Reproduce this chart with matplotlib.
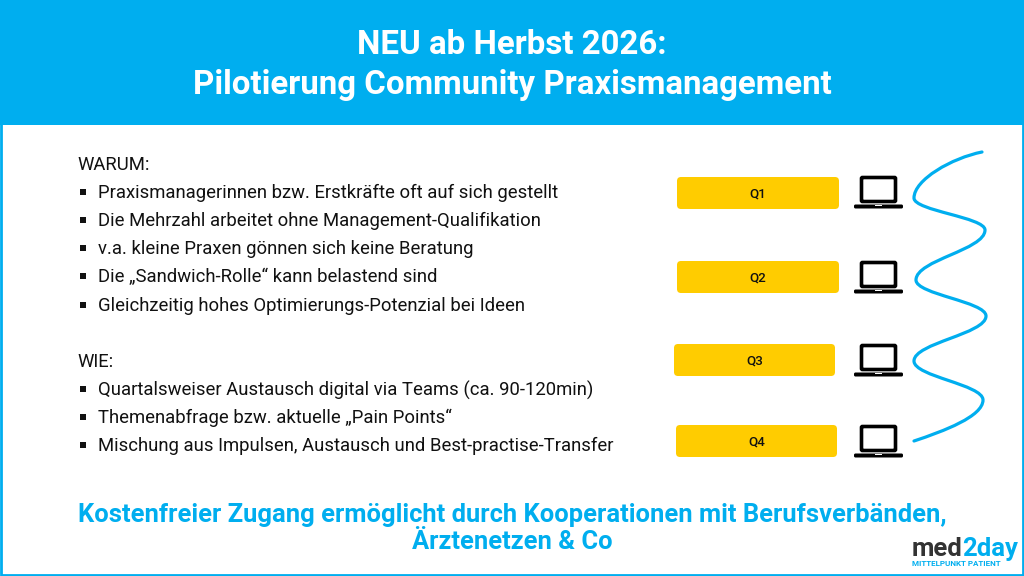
"""Slide: Pilotierung Community Praxismanagement"""
import matplotlib
matplotlib.use('Agg')
import matplotlib.pyplot as plt
from matplotlib.patches import Rectangle, FancyBboxPatch, PathPatch
from matplotlib.path import Path

BLUE = '#00AEEF'
YELLOW = '#FFCC00'
TEXT = '#111111'

title_lines = ['NEU ab Herbst 2026:', 'Pilotierung Community Praxismanagement']
title_y = [45, 85]

warum_head = 'WARUM:'
warum_items = [
    'Praxismanagerinnen bzw. Erstkräfte oft auf sich gestellt',
    'Die Mehrzahl arbeitet ohne Management-Qualifikation',
    'v.a. kleine Praxen gönnen sich keine Beratung',
    'Die „Sandwich-Rolle“ kann belastend sind',
    'Gleichzeitig hohes Optimierungs-Potenzial bei Ideen',
]
warum_y = [192, 220, 248, 276, 305]

wie_head = 'WIE:'
wie_items = [
    'Quartalsweiser Austausch digital via Teams (ca. 90-120min)',
    'Themenabfrage bzw. aktuelle „Pain Points“',
    'Mischung aus Impulsen, Austausch und Best-practise-Transfer',
]
wie_y = [389, 417, 445]

quarters = ['Q1', 'Q2', 'Q3', 'Q4']
quarter_left = [677, 677, 674, 676]
quarter_right = [839, 839, 835, 837]
quarter_y = [193, 277, 360, 441]
laptop_top = [176, 261, 344, 425]

# extreme points of the wavy line, top to bottom
wave_x = [982, 914, 985, 916, 986, 914, 983, 914]
wave_y = [152, 198, 230, 280, 316, 361, 400, 441]

footer_lines = ['Kostenfreier Zugang ermöglicht durch Kooperationen mit Berufsverbänden,',
                'Ärztenetzen & Co']
footer_y = [515, 542]

fig = plt.figure(figsize=(10.24, 5.76), dpi=100)
ax = fig.add_axes([0, 0, 1, 1])
ax.set_xlim(0, 1024)
ax.set_ylim(576, 0)
ax.axis('off')
plt.rcParams['font.family'] = ['Roboto', 'DejaVu Sans']

# frame and banner
ax.add_patch(Rectangle((1, 1), 1022, 574, fc='white', ec=BLUE, lw=2))
ax.add_patch(Rectangle((0, 0), 1024, 125, fc=BLUE, ec='none'))
for line, y in zip(title_lines, title_y):
    ax.text(512, y, line, color='white', fontsize=23.8, fontweight='bold',
            ha='center', va='center')

# bullet lists
ax.text(77.5, 165, warum_head, color=TEXT, fontsize=13.3, va='center')
ax.text(77.5, 362, wie_head, color=TEXT, fontsize=13.3, va='center')
for items, ys in [(warum_items, warum_y), (wie_items, wie_y)]:
    for item, y in zip(items, ys):
        ax.add_patch(Rectangle((80, y - 3), 5.5, 5.5, fc=TEXT, ec='none'))
        ax.text(98, y + 1, item, color=TEXT, fontsize=13.3, va='center')

# quarter boxes and laptops
for q, x0, x1, y, top in zip(quarters, quarter_left, quarter_right, quarter_y, laptop_top):
    ax.add_patch(FancyBboxPatch((x0 + 4, y - 12), x1 - x0 - 8, 24,
                                boxstyle='round,pad=4,rounding_size=4',
                                fc=YELLOW, ec='none'))
    ax.text((x0 + x1) / 2, y + 1, q, color=TEXT, fontsize=9.5, fontweight='medium',
            ha='center', va='center')
    ax.add_patch(FancyBboxPatch((861.5, top + 1.5), 34, 24,
                                boxstyle='round,pad=0,rounding_size=1',
                                fc='white', ec='black', lw=2.6))
    ax.add_patch(FancyBboxPatch((854, top + 28.5), 49, 4,
                                boxstyle='round,pad=0,rounding_size=1.5',
                                fc='black', ec='none'))
    ax.add_patch(Rectangle((875, top + 28.5), 7, 1.5, fc='white', ec='none'))

# wavy line through the extremes
verts = [(wave_x[0], wave_y[0])]
codes = [Path.MOVETO]
for i in range(1, len(wave_x)):
    k = 0.4 * abs(wave_y[i] - wave_y[i - 1])
    c1 = (wave_x[i - 1] - 30, wave_y[i - 1] + 6) if i == 1 else (wave_x[i - 1], wave_y[i - 1] + k)
    c2 = (wave_x[i] + 30, wave_y[i] - 10) if i == len(wave_x) - 1 else (wave_x[i], wave_y[i] - k)
    verts += [c1, c2, (wave_x[i], wave_y[i])]
    codes += [Path.CURVE4] * 3
ax.add_patch(PathPatch(Path(verts, codes), fc='none', ec=BLUE, lw=2.3, capstyle='round'))

# footer
for line, y in zip(footer_lines, footer_y):
    ax.text(512, y, line, color=BLUE, fontsize=18.4, fontweight='bold',
            ha='center', va='center')

# logo
ax.text(912, 549, 'med', color='#333333', fontsize=18.5, fontweight='bold', va='center')
ax.text(962, 549, '2day', color=BLUE, fontsize=18.5, fontweight='bold', va='center')
ax.text(912, 563, 'MITTELPUNKT PATIENT', color=BLUE, fontsize=5.8, fontweight='bold', va='center')

fig.savefig('out.png', dpi=100)
